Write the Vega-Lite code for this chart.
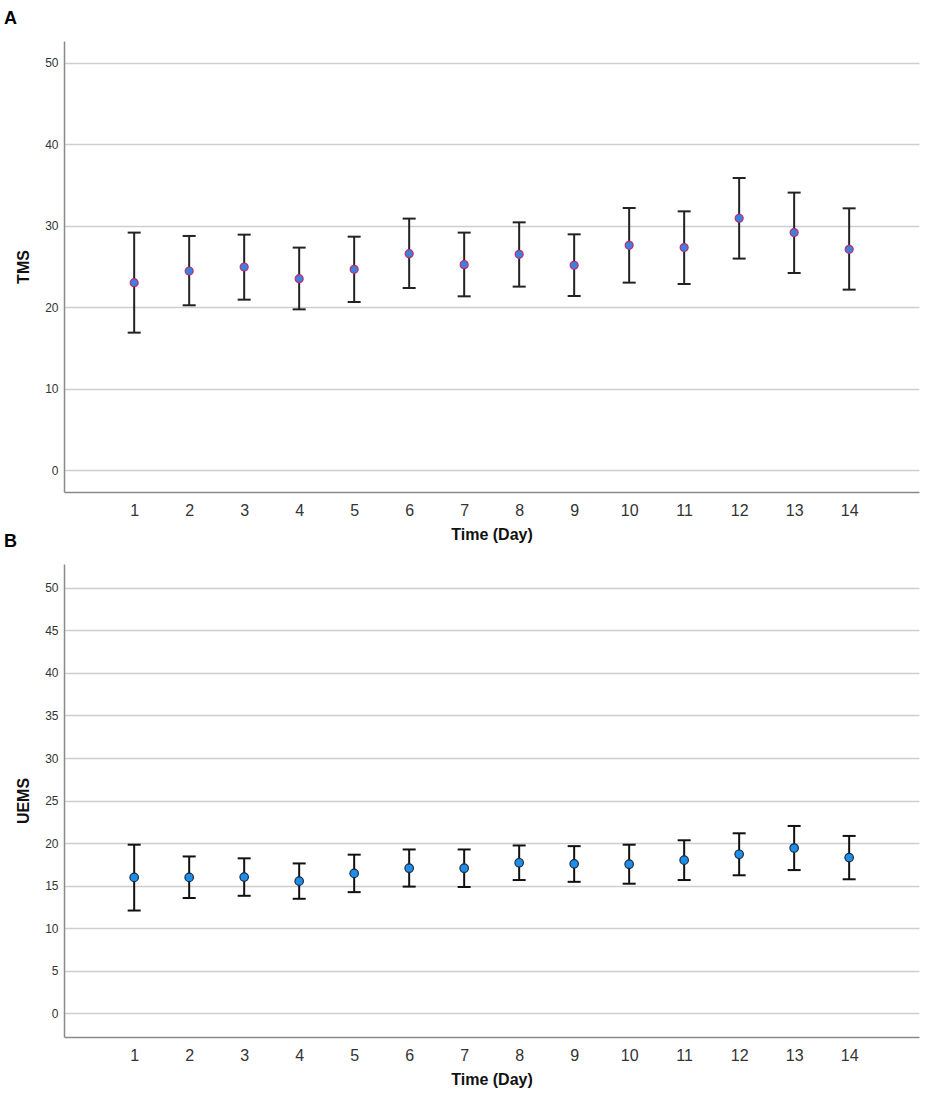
{
  "$schema": "https://vega.github.io/schema/vega-lite/v6.json",
  "background": "white",
  "padding": {"left": 4, "top": 10, "right": 12, "bottom": 4},
  "spacing": 72,
  "bounds": "flush",
  "config": {
    "view": {"stroke": null},
    "font": "Liberation Sans",
    "axisX": {
      "grid": false, "ticks": false,
      "domainColor": "#8a8a8a", "domainWidth": 1.5,
      "labelFontSize": 16, "labelColor": "#333333", "labelPadding": 10,
      "titleFontSize": 16, "titleFontWeight": "bold", "titleColor": "#111111", "titlePadding": 8
    },
    "axisY": {
      "grid": true, "gridColor": "#cdcdcd", "gridWidth": 1.5,
      "ticks": false,
      "domainColor": "#8a8a8a", "domainWidth": 1.5,
      "labelFontSize": 12, "labelColor": "#333333", "labelPadding": 6,
      "titleFontSize": 16, "titleFontWeight": "bold", "titleColor": "#111111", "titlePadding": 13
    },
    "title": {"fontSize": 18, "fontWeight": "bold", "color": "#000000", "anchor": "start", "frame": "group", "dx": -60, "offset": 13, "baseline": "alphabetic"}
  },
  "datasets": {
    "tms": [
      {"day": 1, "mean": 23.04, "lo": 16.90, "hi": 29.18},
      {"day": 2, "mean": 24.47, "lo": 20.26, "hi": 28.77},
      {"day": 3, "mean": 24.96, "lo": 20.95, "hi": 28.93},
      {"day": 4, "mean": 23.53, "lo": 19.76, "hi": 27.34},
      {"day": 5, "mean": 24.67, "lo": 20.66, "hi": 28.68},
      {"day": 6, "mean": 26.60, "lo": 22.38, "hi": 30.90},
      {"day": 7, "mean": 25.25, "lo": 21.36, "hi": 29.18},
      {"day": 8, "mean": 26.52, "lo": 22.55, "hi": 30.44},
      {"day": 9, "mean": 25.17, "lo": 21.40, "hi": 28.97},
      {"day": 10, "mean": 27.62, "lo": 23.04, "hi": 32.20},
      {"day": 11, "mean": 27.34, "lo": 22.87, "hi": 31.79},
      {"day": 12, "mean": 30.94, "lo": 25.99, "hi": 35.88},
      {"day": 13, "mean": 29.18, "lo": 24.22, "hi": 34.09},
      {"day": 14, "mean": 27.13, "lo": 22.18, "hi": 32.16}
    ],
    "uems": [
      {"day": 1, "mean": 15.98, "lo": 12.09, "hi": 19.82},
      {"day": 2, "mean": 15.98, "lo": 13.56, "hi": 18.44},
      {"day": 3, "mean": 16.02, "lo": 13.82, "hi": 18.22},
      {"day": 4, "mean": 15.54, "lo": 13.47, "hi": 17.62},
      {"day": 5, "mean": 16.45, "lo": 14.25, "hi": 18.65},
      {"day": 6, "mean": 17.06, "lo": 14.90, "hi": 19.26},
      {"day": 7, "mean": 17.06, "lo": 14.85, "hi": 19.26},
      {"day": 8, "mean": 17.70, "lo": 15.67, "hi": 19.73},
      {"day": 9, "mean": 17.57, "lo": 15.46, "hi": 19.65},
      {"day": 10, "mean": 17.53, "lo": 15.24, "hi": 19.82},
      {"day": 11, "mean": 18.00, "lo": 15.67, "hi": 20.34},
      {"day": 12, "mean": 18.70, "lo": 16.23, "hi": 21.16},
      {"day": 13, "mean": 19.43, "lo": 16.84, "hi": 22.02},
      {"day": 14, "mean": 18.31, "lo": 15.76, "hi": 20.85}
    ]
  },
  "vconcat": [
    {
      "title": {"text": "A"},
      "width": 855,
      "height": 451,
      "data": {"name": "tms"},
      "encoding": {
        "x": {
          "field": "day", "type": "quantitative", "title": "Time (Day)",
          "scale": {"domain": [-0.276, 15.27], "nice": false, "zero": false},
          "axis": {"values": [1, 2, 3, 4, 5, 6, 7, 8, 9, 10, 11, 12, 13, 14], "format": "d"}
        }
      },
      "layer": [
        {
          "mark": {"type": "rule", "color": "#222222", "strokeWidth": 2},
          "encoding": {
            "y": {
              "field": "lo", "type": "quantitative", "title": "TMS",
              "scale": {"domain": [-2.66, 52.7], "nice": false, "zero": false},
              "axis": {"values": [0, 10, 20, 30, 40, 50]}
            },
            "y2": {"field": "hi"}
          }
        },
        {
          "mark": {"type": "tick", "orient": "horizontal", "size": 13, "thickness": 2, "color": "#222222", "opacity": 1},
          "encoding": {"y": {"field": "lo", "type": "quantitative", "title": "TMS"}}
        },
        {
          "mark": {"type": "tick", "orient": "horizontal", "size": 13, "thickness": 2, "color": "#222222", "opacity": 1},
          "encoding": {"y": {"field": "hi", "type": "quantitative", "title": "TMS"}}
        },
        {
          "mark": {"type": "circle", "size": 64, "fill": "#3f7fe0", "stroke": "#b8306e", "strokeWidth": 1.2, "opacity": 1},
          "encoding": {"y": {"field": "mean", "type": "quantitative", "title": "TMS"}}
        }
      ]
    },
    {
      "title": {"text": "B"},
      "width": 855,
      "height": 473,
      "data": {"name": "uems"},
      "encoding": {
        "x": {
          "field": "day", "type": "quantitative", "title": "Time (Day)",
          "scale": {"domain": [-0.276, 15.27], "nice": false, "zero": false},
          "axis": {"values": [1, 2, 3, 4, 5, 6, 7, 8, 9, 10, 11, 12, 13, 14], "format": "d"}
        }
      },
      "layer": [
        {
          "mark": {"type": "rule", "color": "#111111", "strokeWidth": 2},
          "encoding": {
            "y": {
              "field": "lo", "type": "quantitative", "title": "UEMS",
              "scale": {"domain": [-2.76, 52.78], "nice": false, "zero": false},
              "axis": {"values": [0, 5, 10, 15, 20, 25, 30, 35, 40, 45, 50]}
            },
            "y2": {"field": "hi"}
          }
        },
        {
          "mark": {"type": "tick", "orient": "horizontal", "size": 13, "thickness": 2, "color": "#111111", "opacity": 1},
          "encoding": {"y": {"field": "lo", "type": "quantitative", "title": "UEMS"}}
        },
        {
          "mark": {"type": "tick", "orient": "horizontal", "size": 13, "thickness": 2, "color": "#111111", "opacity": 1},
          "encoding": {"y": {"field": "hi", "type": "quantitative", "title": "UEMS"}}
        },
        {
          "mark": {"type": "circle", "size": 72, "fill": "#1e8ee8", "stroke": "#1a2a40", "strokeWidth": 1.2, "opacity": 1},
          "encoding": {"y": {"field": "mean", "type": "quantitative", "title": "UEMS"}}
        }
      ]
    }
  ]
}
